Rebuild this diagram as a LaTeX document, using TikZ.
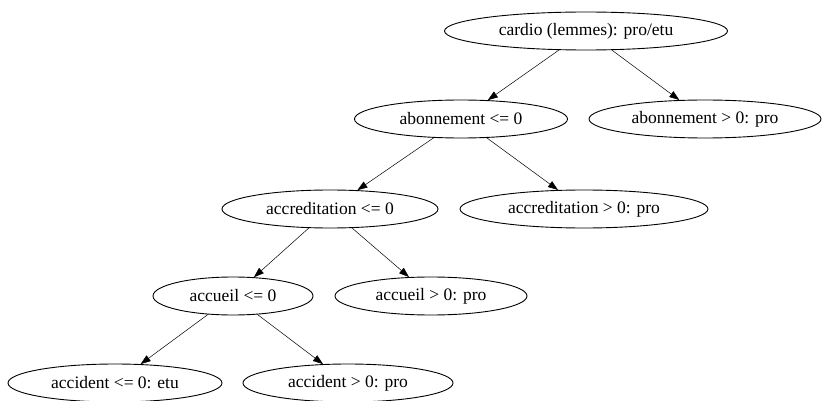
\documentclass[tikz,border=0pt]{standalone}
\usepackage{fontspec}
\setmainfont{Liberation Serif}
\usetikzlibrary{shapes.geometric,arrows.meta}
\begin{document}
\begin{tikzpicture}[x=1pt,y=-1pt,
  tnode/.style={draw,ellipse,inner sep=0pt,minimum height=38pt,font=\fontsize{17.5}{19}\selectfont,line width=0.9pt},
  tedge/.style={-{Triangle[length=10pt,width=7pt]},line width=0.5pt}]
\useasboundingbox (0,0) rectangle (822,401);
\node[tnode,minimum width=283pt] (n1) at (586,31) {cardio (lemmes): pro/etu};
\node[tnode,minimum width=213pt] (n2) at (461,119) {abonnement <= 0};
\node[tnode,minimum width=232pt] (n3) at (705,119) {abonnement > 0: pro};
\node[tnode,minimum width=216pt] (n4) at (330,209) {accreditation <= 0};
\node[tnode,minimum width=248pt] (n5) at (584,209) {accreditation > 0: pro};
\node[tnode,minimum width=160pt] (n6) at (233,296) {accueil <= 0};
\node[tnode,minimum width=192pt] (n7) at (431,296) {accueil > 0: pro};
\node[tnode,minimum width=214pt] (n8) at (115,383) {accident <= 0: etu};
\node[tnode,minimum width=210pt] (n9) at (348,383) {accident > 0: pro};
\draw[tedge] (n1) -- (n2);
\draw[tedge] (n1) -- (n3);
\draw[tedge] (n2) -- (n4);
\draw[tedge] (n2) -- (n5);
\draw[tedge] (n4) -- (n6);
\draw[tedge] (n4) -- (n7);
\draw[tedge] (n6) -- (n8);
\draw[tedge] (n6) -- (n9);
\end{tikzpicture}
\end{document}
